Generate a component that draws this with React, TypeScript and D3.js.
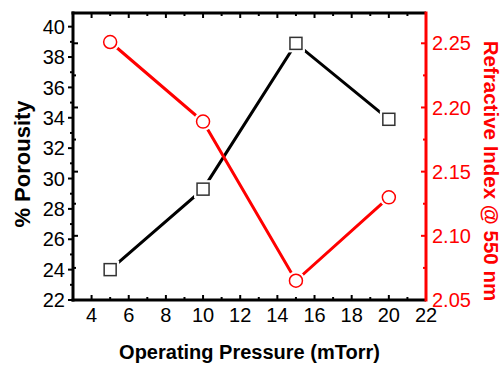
import React from 'react'
import * as d3 from 'd3'

const pressure = [5, 10, 15, 20]
const porosity = [24.0, 29.3, 38.9, 33.9]
const refractiveIndex = [2.251, 2.189, 2.065, 2.13]

const xTicks = [4, 6, 8, 10, 12, 14, 16, 18, 20, 22]
const leftTicks = [22, 24, 26, 28, 30, 32, 34, 36, 38, 40]
const rightTicks = [2.05, 2.1, 2.15, 2.2, 2.25]

const W = 502
const H = 365
const M = { left: 73, right: 426, top: 13, bottom: 300 }
const RED = '#ff0000'
const FONT = 'Liberation Sans, Arial, sans-serif'

const App = () => {
  const x = d3.scaleLinear().domain([3, 22]).range([M.left, M.right])
  const yL = d3.scaleLinear().domain([22, 40.9]).range([M.bottom, M.top])
  const yR = d3.scaleLinear().domain([2.05, 2.2736]).range([M.bottom, M.top])

  const xMinor = d3.range(3, 23, 1).filter((v) => !xTicks.includes(v))
  const lMinor = d3.range(23, 41, 2)
  const rMinor = d3.range(0, 5).map((i) => 2.075 + i * 0.05).filter((v) => v < 2.27)

  const line = (ys: (v: number) => number, vals: number[]) =>
    d3.line<number>().x((d, i) => x(pressure[i])).y((d) => ys(d))(vals) || ''

  return (
    <svg width={W} height={H} style={{ position: 'absolute', left: 0, top: 0 }} fontFamily={FONT}>
      <rect width={W} height={H} fill="#fff" />

      {/* bottom / top ticks (inward) */}
      {xTicks.map((t) => (
        <g key={'xt' + t}>
          <line x1={x(t)} x2={x(t)} y1={M.bottom} y2={M.bottom - 5} stroke="#000" strokeWidth={2} />
          <line x1={x(t)} x2={x(t)} y1={M.top} y2={M.top + 5} stroke="#000" strokeWidth={2} />
          <text x={x(t)} y={322} fontSize={20} textAnchor="middle">{t}</text>
        </g>
      ))}
      {xMinor.map((t) => (
        <g key={'xm' + t}>
          <line x1={x(t)} x2={x(t)} y1={M.bottom} y2={M.bottom - 3} stroke="#000" strokeWidth={2} />
          <line x1={x(t)} x2={x(t)} y1={M.top} y2={M.top + 3} stroke="#000" strokeWidth={2} />
        </g>
      ))}

      {/* left axis ticks (outward) */}
      {leftTicks.map((t) => (
        <g key={'lt' + t}>
          <line x1={M.left} x2={M.left - 5} y1={yL(t)} y2={yL(t)} stroke="#000" strokeWidth={2} />
          <text x={65} y={yL(t)} dy="0.36em" fontSize={20} textAnchor="end">{t}</text>
        </g>
      ))}
      {lMinor.map((t) => (
        <line key={'lm' + t} x1={M.left} x2={M.left - 3} y1={yL(t)} y2={yL(t)} stroke="#000" strokeWidth={2} />
      ))}

      {/* right axis ticks mirrored inside left spine, and inward on right spine */}
      {rightTicks.map((t) => (
        <g key={'rt' + t}>
          <line x1={M.left} x2={M.left + 5} y1={yR(t)} y2={yR(t)} stroke="#000" strokeWidth={2} />
          <line x1={M.right} x2={M.right - 5} y1={yR(t)} y2={yR(t)} stroke={RED} strokeWidth={2} />
          <text x={432} y={yR(t)} dy="0.36em" fontSize={20} fill={RED}>{t.toFixed(2)}</text>
        </g>
      ))}
      {rMinor.map((t) => (
        <g key={'rm' + t}>
          <line x1={M.left} x2={M.left + 3} y1={yR(t)} y2={yR(t)} stroke="#000" strokeWidth={2} />
          <line x1={M.right} x2={M.right - 3} y1={yR(t)} y2={yR(t)} stroke={RED} strokeWidth={2} />
        </g>
      ))}

      {/* spines */}
      <line x1={M.left - 1.5} x2={M.right} y1={M.top} y2={M.top} stroke="#000" strokeWidth={3} />
      <line x1={M.left - 1.5} x2={M.right} y1={M.bottom} y2={M.bottom} stroke="#000" strokeWidth={3} />
      <line x1={M.left} x2={M.left} y1={M.top - 1.5} y2={M.bottom + 1.5} stroke="#000" strokeWidth={3} />
      <line x1={M.right} x2={M.right} y1={M.top - 1.5} y2={M.bottom + 1.5} stroke={RED} strokeWidth={3} />

      {/* porosity series */}
      <path d={line(yL, porosity)} fill="none" stroke="#000" strokeWidth={3} />
      {porosity.map((v, i) => (
        <g key={'sq' + i}>
          <rect x={x(pressure[i]) - 9} y={yL(v) - 9} width={18} height={18} fill="#fff" />
          <rect x={x(pressure[i]) - 6} y={yL(v) - 6} width={12} height={12} fill="#fff" stroke="#333" strokeWidth={1.5} />
        </g>
      ))}

      {/* refractive index series */}
      <path d={line(yR, refractiveIndex)} fill="none" stroke={RED} strokeWidth={3} />
      {refractiveIndex.map((v, i) => (
        <g key={'ci' + i}>
          <circle cx={x(pressure[i])} cy={yR(v)} r={9.5} fill="#fff" />
          <circle cx={x(pressure[i])} cy={yR(v)} r={6.5} fill="#fff" stroke={RED} strokeWidth={1.5} />
        </g>
      ))}

      {/* titles */}
      <text x={(M.left + M.right) / 2} y={359} fontSize={20} fontWeight="bold" textAnchor="middle">
        Operating Pressure (mTorr)
      </text>
      <text transform="translate(30,164) rotate(-90)" fontSize={22} fontWeight="bold" textAnchor="middle">
        % Porousity
      </text>
      <text transform="translate(484,171) rotate(90)" fontSize={20.5} fontWeight="bold" textAnchor="middle" fill={RED}>
        Refractive Index @ 550 nm
      </text>
    </svg>
  )
}

export default App
